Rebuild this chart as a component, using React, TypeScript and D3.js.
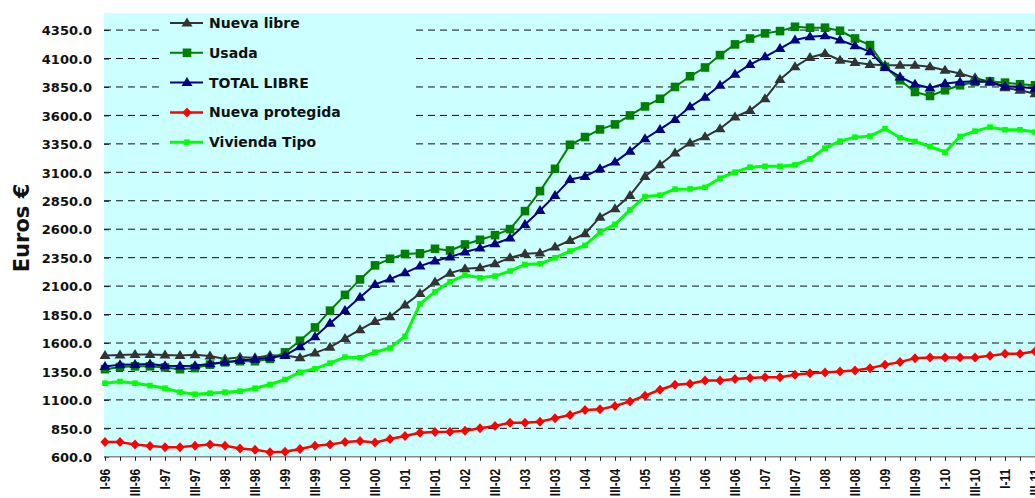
import React, { useEffect, useRef } from 'react';
import * as d3 from 'd3';

const WIDTH = 1035;
const HEIGHT = 498;

// plot frame (the plot continues past the right edge of the picture)
const PLOT = { left: 104, top: 13, bottom: 456.8, right: 1060 };

const years = ['96', '97', '98', '99', '00', '01', '02', '03', '04', '05', '06', '07', '08', '09', '10', '11'];
const quarterNames = ['I', 'II', 'III', 'IV'];
const quarters: string[] = years.flatMap(y => quarterNames.map(q => `${q}-${y}`)).slice(0, 63);

const yTicks = [600, 850, 1100, 1350, 1600, 1850, 2100, 2350, 2600, 2850, 3100, 3350, 3600, 3850, 4100, 4350];

const nuevaLibre = [
  1490, 1495, 1500, 1500, 1495, 1490, 1497, 1485, 1460, 1475, 1470, 1490, 1490, 1470, 1513, 1562,
  1640, 1717, 1790, 1830, 1935, 2035, 2135, 2214, 2252, 2261, 2296, 2349, 2384, 2390, 2443, 2501,
  2560, 2706, 2780, 2897, 3064, 3166, 3269, 3358, 3412, 3483, 3586, 3644, 3747, 3915, 4027, 4109,
  4144, 4085, 4065, 4047, 4041, 4041, 4041, 4027, 3997, 3968, 3930, 3894, 3844, 3821, 3791,
];

const usada = [
  1370, 1390, 1395, 1395, 1385, 1370, 1380, 1410, 1430, 1440, 1440, 1460, 1518, 1620, 1737, 1884,
  2023, 2159, 2282, 2340, 2382, 2388, 2428, 2413, 2466, 2507, 2548, 2601, 2759, 2935, 3131, 3342,
  3410, 3477, 3521, 3600, 3679, 3746, 3850, 3944, 4021, 4130, 4224, 4276, 4321, 4341, 4379, 4371,
  4371, 4344, 4276, 4218, 4027, 3909, 3806, 3771, 3821, 3865, 3894, 3900, 3888, 3874, 3865,
];

const totalLibre = [
  1394, 1410, 1412, 1415, 1400, 1398, 1400, 1417, 1432, 1446, 1458, 1470, 1490, 1568, 1655, 1773,
  1885, 2003, 2115, 2162, 2217, 2276, 2320, 2355, 2399, 2434, 2472, 2522, 2642, 2765, 2897, 3037,
  3064, 3131, 3190, 3286, 3395, 3477, 3565, 3676, 3760, 3865, 3962, 4047, 4115, 4188, 4262, 4291,
  4300, 4262, 4212, 4159, 4021, 3938, 3874, 3841, 3880, 3894, 3900, 3894, 3856, 3850, 3836,
];

const nuevaProtegida = [
  729, 729, 709, 694, 685, 685, 697, 709, 697, 673, 662, 641, 644, 668, 697, 709,
  729, 738, 726, 756, 782, 812, 818, 820, 829, 850, 870, 900, 900, 909, 938, 968,
  1012, 1017, 1047, 1087, 1137, 1189, 1233, 1242, 1271, 1271, 1283, 1292, 1300, 1300, 1321, 1335,
  1341, 1350, 1359, 1379, 1408, 1432, 1467, 1473, 1473, 1473, 1473, 1487, 1505, 1505, 1525,
];

const viviendaTipo = [
  1247, 1262, 1247, 1226, 1203, 1168, 1150, 1159, 1168, 1177, 1203, 1235, 1279, 1344, 1373, 1423,
  1476, 1470, 1520, 1556, 1659, 1944, 2050, 2138, 2197, 2173, 2188, 2232, 2290, 2296, 2349, 2408,
  2458, 2575, 2643, 2770, 2887, 2899, 2952, 2954, 2968, 3048, 3101, 3145, 3153, 3153, 3165, 3218,
  3312, 3374, 3409, 3418, 3483, 3404, 3371, 3327, 3277, 3415, 3462, 3497, 3474, 3474, 3453,
];

type Marker = 'triangle' | 'square' | 'diamond' | 'smallSquare';

const SERIES: { name: string; values: number[]; color: string; width: number; marker: Marker }[] = [
  { name: 'Nueva libre', values: nuevaLibre, color: '#333333', width: 2, marker: 'triangle' },
  { name: 'Usada', values: usada, color: '#008000', width: 2, marker: 'square' },
  { name: 'TOTAL LIBRE', values: totalLibre, color: '#000080', width: 2, marker: 'triangle' },
  { name: 'Nueva protegida', values: nuevaProtegida, color: '#FF0000', width: 2.5, marker: 'diamond' },
  { name: 'Vivienda Tipo', values: viviendaTipo, color: '#00FF00', width: 3, marker: 'smallSquare' },
];

const markerPath = (m: Marker) => {
  switch (m) {
    case 'triangle': return 'M0,-5.5L5.5,3.5L-5.5,3.5Z';
    case 'square': return 'M-4.3,-4.3h8.6v8.6h-8.6Z';
    case 'diamond': return 'M0,-5L4.6,0L0,5L-4.6,0Z';
    default: return 'M-2.8,-2.8h5.6v5.6h-5.6Z';
  }
};

const BOLD = 'DejaVu Sans, sans-serif';

const App: React.FC = () => {
  const svgRef = useRef<SVGSVGElement>(null);

  useEffect(() => {
    const svg = d3.select(svgRef.current);
    svg.selectAll('*').remove();

    const xScale = d3.scalePoint<string>()
      .domain(quarters)
      .range([105, 105 + 15 * (quarters.length - 1)]);

    const yScale = d3.scaleLinear()
      .domain([600, 4500])
      .range([PLOT.bottom, PLOT.top]);

    // plot background
    svg.append('rect')
      .attr('x', PLOT.left)
      .attr('y', PLOT.top)
      .attr('width', PLOT.right - PLOT.left)
      .attr('height', PLOT.bottom - PLOT.top)
      .attr('fill', '#CCFFFF');

    // gridlines
    svg.append('g')
      .selectAll('line')
      .data(yTicks.filter(t => t > 600))
      .enter().append('line')
      .attr('x1', PLOT.left)
      .attr('x2', PLOT.right)
      .attr('y1', d => yScale(d))
      .attr('y2', d => yScale(d))
      .attr('stroke', '#111')
      .attr('stroke-width', 1)
      .attr('stroke-dasharray', '7,5');

    // legend box hides the gridlines behind it
    const legend = svg.append('g');
    legend.append('rect')
      .attr('x', 163)
      .attr('y', PLOT.top)
      .attr('width', 248)
      .attr('height', 148)
      .attr('fill', '#CCFFFF');

    // y axis
    const yAxis = svg.append('g')
      .attr('transform', `translate(${PLOT.left},0)`)
      .call(d3.axisRight(yScale).tickValues(yTicks).tickSize(5).tickFormat(d => d3.format('.1f')(d as number)));
    yAxis.select('.domain').remove();
    yAxis.selectAll('.tick line').attr('stroke', '#222');
    yAxis.selectAll('.tick text')
      .attr('x', -12)
      .attr('dy', '0.36em')
      .attr('text-anchor', 'end')
      .style('font-family', BOLD)
      .style('font-weight', 'bold')
      .style('font-size', '13px')
      .style('fill', '#111');

    // x axis
    const xAxis = svg.append('g')
      .attr('transform', `translate(0,${PLOT.bottom})`)
      .call(d3.axisBottom(xScale).tickSize(4).tickSizeOuter(0)
        .tickFormat(d => (d.startsWith('I-') || d.startsWith('III-')) ? d : ''));
    xAxis.select('.domain')
      .attr('d', `M${PLOT.left},0H${PLOT.right}`)
      .attr('stroke', '#888')
      .attr('stroke-width', 1.5);
    xAxis.selectAll('.tick line').attr('stroke', '#222');
    xAxis.selectAll('.tick text')
      .attr('x', 0)
      .attr('y', 0)
      .attr('dy', 0)
      .attr('text-anchor', 'end')
      .attr('transform', 'translate(4,12) rotate(-90) scale(1,1.2)')
      .style('font-family', 'Liberation Sans, Arial, sans-serif')
      .style('font-weight', 'bold')
      .style('font-size', '12px')
      .style('fill', '#111');

    // y title
    svg.append('text')
      .attr('transform', `translate(29,228) rotate(-90)`)
      .attr('text-anchor', 'middle')
      .style('font-family', BOLD)
      .style('font-weight', 'bold')
      .style('font-size', '21px')
      .style('fill', '#111')
      .text('Euros €');

    // series
    const line = d3.line<number>()
      .x((_, i) => xScale(quarters[i])!)
      .y(d => yScale(d));

    const plotG = svg.append('g');
    SERIES.forEach(s => {
      plotG.append('path')
        .datum(s.values)
        .attr('fill', 'none')
        .attr('stroke', s.color)
        .attr('stroke-width', s.width)
        .attr('stroke-linejoin', 'round')
        .attr('d', line);

      plotG.selectAll(null)
        .data(s.values)
        .enter().append('path')
        .attr('transform', (d, i) => `translate(${xScale(quarters[i])},${yScale(d)})`)
        .attr('d', markerPath(s.marker))
        .attr('fill', s.color);
    });

    // legend items
    SERIES.forEach((s, i) => {
      const y = 23 + i * 29.8;
      const item = legend.append('g').attr('transform', `translate(0,${y})`);
      item.append('line')
        .attr('x1', 170).attr('x2', 203)
        .attr('y1', 0).attr('y2', 0)
        .attr('stroke', s.color)
        .attr('stroke-width', s.width);
      item.append('path')
        .attr('transform', 'translate(187,0)')
        .attr('d', markerPath(s.marker))
        .attr('fill', s.color);
      item.append('text')
        .attr('x', 209)
        .attr('dy', '0.36em')
        .style('font-family', BOLD)
        .style('font-weight', 'bold')
        .style('font-size', '14px')
        .style('fill', '#111')
        .text(s.name);
    });
  }, []);

  return (
    <svg
      ref={svgRef}
      width={WIDTH}
      height={HEIGHT}
      style={{ position: 'absolute', left: 0, top: 0, background: '#fff' }}
    />
  );
};

export default App;
